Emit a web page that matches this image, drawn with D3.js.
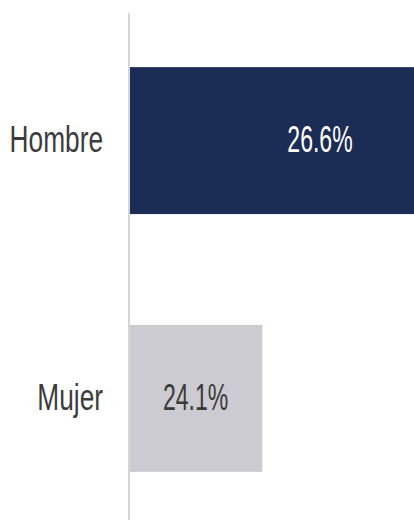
<!DOCTYPE html>
<html>
<head>
<meta charset="utf-8">
<script src="https://cdn.jsdelivr.net/npm/d3@7"></script>
<style>
  html, body { margin: 0; padding: 0; background: #fff; overflow: hidden; }
  svg { display: block; }
</style>
</head>
<body>
<div id="chart"></div>
<script>
var categories = ['Hombre', 'Mujer']
var values = [26.6, 24.1]
var valueLabels = ['26.6%', '24.1%']

var w = 414,
    h = 520,
    left = 129

var svg = d3.select('#chart')
    .append('svg')
    .attr('width', w)
    .attr('height', h)

// bars don't start at zero in the source, the first one runs off the right edge
var xscale = d3.scaleLinear()
    .domain([22.76, 26.6])
    .range([left, 511])

var yscale = d3.scaleBand()
    .domain(categories)
    .range([13, 526])
    .paddingInner(0.43)
    .paddingOuter(0.21)

var colors = ['#1c2d55', '#cbcbd1'],
    textColors = ['#ffffff', '#3a3a3a']

svg.selectAll('rect.bar')
    .data(categories)
    .enter()
    .append('rect')
    .attr('class', 'bar')
    .attr('x', xscale.range()[0])
    .attr('y', d => yscale(d))
    .attr('width', (d, i) => xscale(values[i]) - xscale.range()[0])
    .attr('height', yscale.bandwidth())
    .attr('fill', (d, i) => colors[i])

// axis line
svg.append('line')
    .attr('x1', left)
    .attr('x2', left)
    .attr('y1', yscale.range()[0])
    .attr('y2', yscale.range()[1])
    .attr('stroke', '#d6d6d6')
    .attr('stroke-width', 2)

// category labels
svg.selectAll('text.cat')
    .data(categories)
    .enter()
    .append('text')
    .attr('class', 'cat')
    .text(d => d)
    .attr('text-anchor', 'end')
    .attr('dy', '0.32em')
    .attr('transform', d => `translate(${left - 26}, ${yscale(d) + yscale.bandwidth() / 2}) scale(0.73, 1)`)
    .style('font-family', '"Liberation Sans", Arial, sans-serif')
    .style('font-size', '36px')
    .style('fill', '#3c3c3c')

// value labels
svg.selectAll('text.val')
    .data(categories)
    .enter()
    .append('text')
    .attr('class', 'val')
    .text((d, i) => valueLabels[i])
    .attr('text-anchor', 'middle')
    .attr('dy', '0.32em')
    .attr('transform', (d, i) => `translate(${(xscale.range()[0] + xscale(values[i])) / 2}, ${yscale(d) + yscale.bandwidth() / 2}) scale(0.64, 1)`)
    .style('font-family', '"Liberation Sans", Arial, sans-serif')
    .style('font-size', '36px')
    .style('fill', (d, i) => textColors[i])
</script>
</body>
</html>
